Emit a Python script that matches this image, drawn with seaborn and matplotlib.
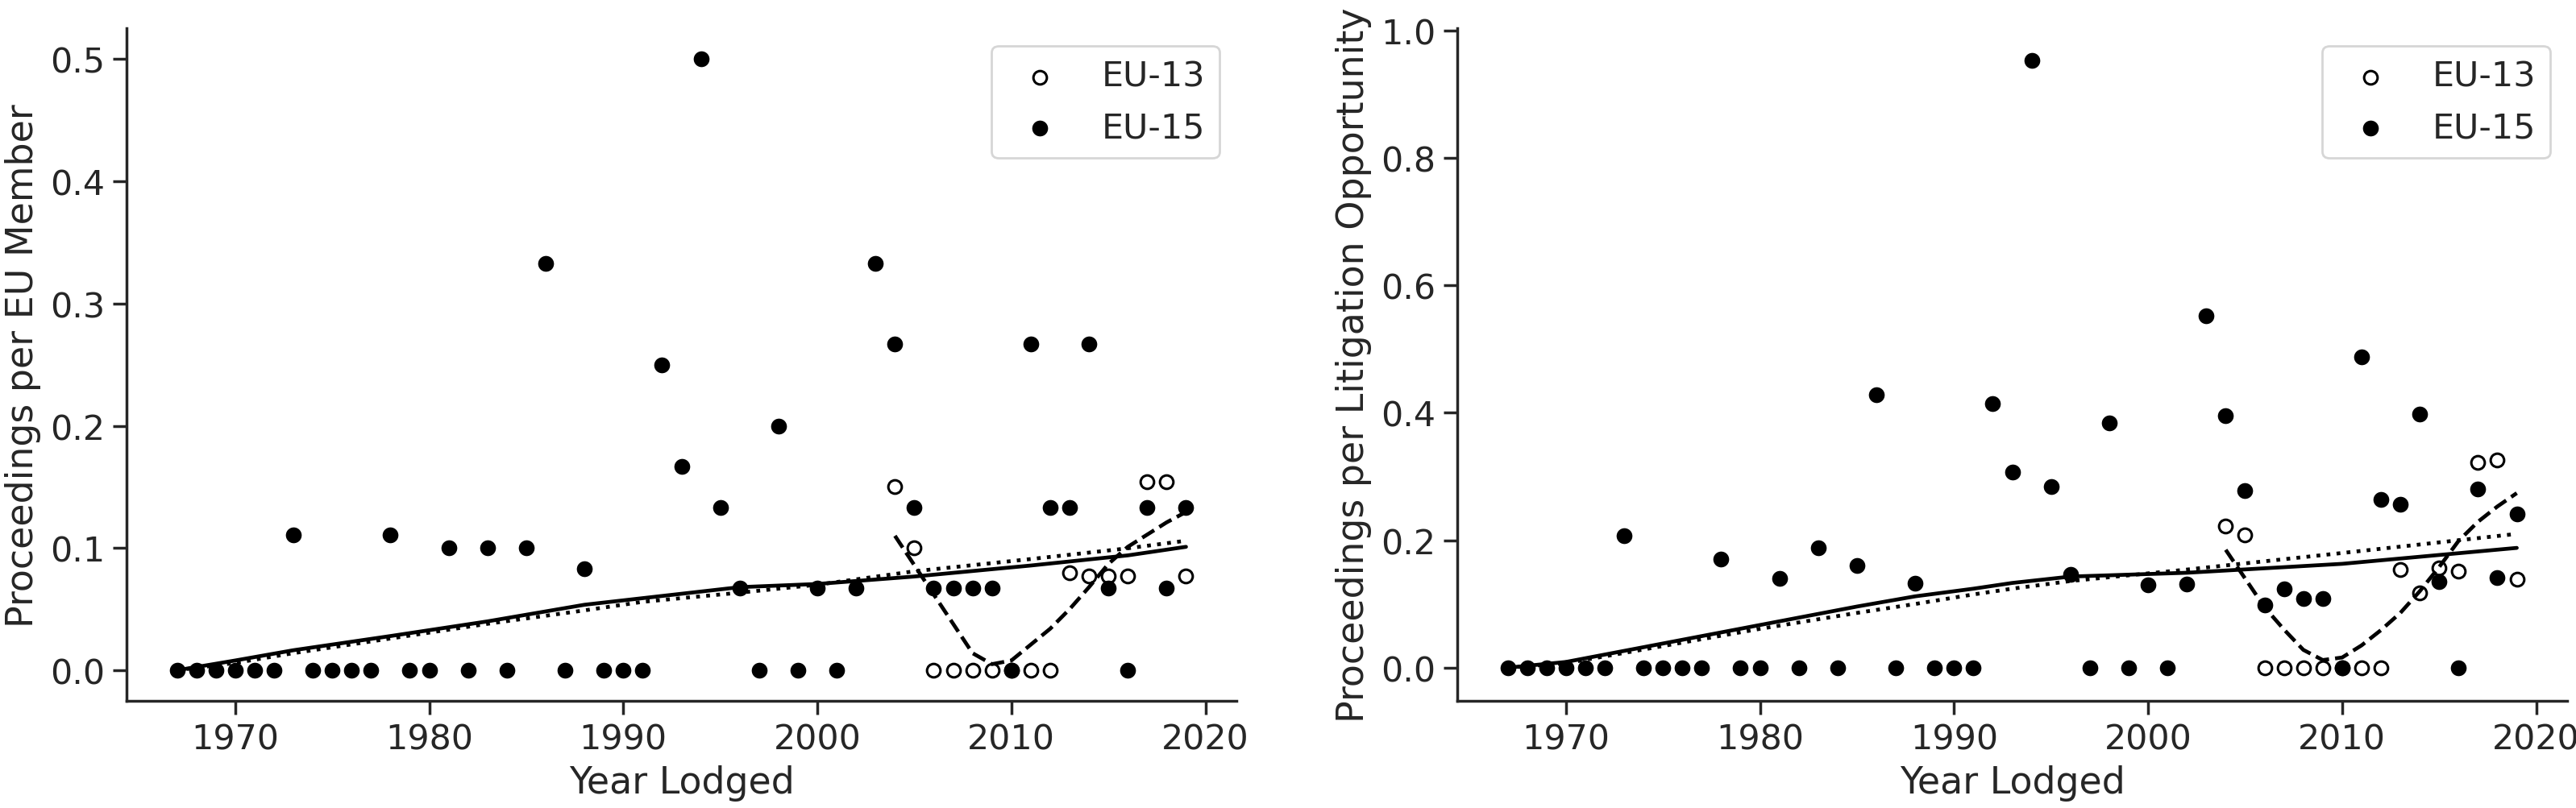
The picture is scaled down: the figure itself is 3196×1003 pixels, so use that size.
import numpy as np
import pandas as pd
import seaborn as sns
import matplotlib
matplotlib.use("Agg")
import matplotlib.pyplot as plt

# ---- data ----
years_eu15 = list(range(1967, 2020))
years_eu13 = list(range(2004, 2020))

# proceedings per EU member
member_eu15 = [0, 0, 0, 0, 0, 0, 0.111, 0, 0, 0, 0, 0.111, 0, 0, 0.1, 0, 0.1, 0, 0.1,
               0.333, 0, 0.083, 0, 0, 0, 0.25, 0.167, 0.5, 0.133, 0.067, 0, 0.2, 0,
               0.067, 0, 0.067, 0.333, 0.267, 0.133, 0.067, 0.067, 0.067, 0.067, 0,
               0.267, 0.133, 0.133, 0.267, 0.067, 0, 0.133, 0.067, 0.133]
member_eu13 = [0.15, 0.1, 0, 0, 0, 0, 0, 0, 0, 0.08, 0.077, 0.077, 0.077, 0.154,
               0.154, 0.077]

# proceedings per litigation opportunity
opport_eu15 = [0, 0, 0, 0, 0, 0, 0.207, 0, 0, 0, 0, 0.171, 0, 0, 0.140, 0, 0.188, 0,
               0.160, 0.428, 0, 0.133, 0, 0, 0, 0.415, 0.307, 0.953, 0.284, 0.147, 0,
               0.384, 0, 0.130, 0, 0.131, 0.552, 0.395, 0.278, 0.099, 0.124, 0.109,
               0.109, 0, 0.488, 0.264, 0.256, 0.398, 0.135, 0, 0.280, 0.142, 0.241]
opport_eu13 = [0.222, 0.208, 0, 0, 0, 0, 0, 0, 0, 0.154, 0.117, 0.157, 0.151, 0.322,
               0.326, 0.139]

# smoothed trend lines
trend_years = [1967, 1970, 1973, 1978, 1983, 1988, 1991, 1996, 2000, 2005, 2011, 2016, 2019]
member_trend_solid = [0.0, 0.008, 0.0164, 0.028, 0.040, 0.0536, 0.059, 0.068, 0.0706,
                      0.0767, 0.0857, 0.094, 0.101]
member_trend_dotted = [0.0, 0.006, 0.014, 0.026, 0.038, 0.049, 0.056, 0.0635, 0.070,
                       0.081, 0.091, 0.0998, 0.106]
member_trend_dashed = [0.110, 0.086, 0.062, 0.038, 0.014, 0.005, 0.008, 0.021, 0.034,
                       0.050, 0.068, 0.087, 0.101, 0.111, 0.121, 0.1295]

opport_trend_years = [1967, 1970, 1975, 1980, 1985, 1988, 1991, 1993, 1996, 2002, 2010, 2019]
opport_trend_solid = [0.0, 0.009, 0.038, 0.067, 0.096, 0.112, 0.124, 0.133, 0.143,
                      0.149, 0.163, 0.188]
opport_trend_dotted = [0.0, 0.007, 0.034, 0.061, 0.086, 0.100, 0.115, 0.124, 0.136,
                       0.154, 0.180, 0.210]
opport_trend_dashed = [0.185, 0.140, 0.095, 0.060, 0.028, 0.012, 0.016, 0.035, 0.059,
                       0.086, 0.120, 0.158, 0.199, 0.229, 0.253, 0.274]

sns.set_theme(style="ticks", context="notebook", font_scale=1.4)
plt.rcParams['font.family'] = ['DejaVu Sans']
plt.rcParams['axes.labelsize'] = 16.5
plt.rcParams['xtick.major.size'] = 6
plt.rcParams['ytick.major.size'] = 6


def draw_panel(ax, eu13, eu15, t_years, t_solid, t_dotted, t_dashed, ylabel):
    sns.scatterplot(x=years_eu13, y=eu13, ax=ax, s=36, facecolor="white",
                    edgecolor="black", linewidth=1.1, label="EU-13", zorder=2)
    sns.scatterplot(x=years_eu15, y=eu15, ax=ax, s=50, color="black",
                    linewidth=0, label="EU-15", zorder=2)
    sns.lineplot(x=t_years, y=t_solid, ax=ax, color="black", linestyle="-",
                 linewidth=1.7, zorder=3)
    sns.lineplot(x=t_years, y=t_dotted, ax=ax, color="black", linestyle=":",
                 linewidth=1.7, zorder=3)
    sns.lineplot(x=years_eu13, y=t_dashed, ax=ax, color="black", linestyle="--",
                 linewidth=1.7, zorder=3)
    ax.set_xlabel("Year Lodged")
    ax.set_ylabel(ylabel)
    ax.set_xticks([1970, 1980, 1990, 2000, 2010, 2020])
    ax.legend(loc="upper right")
    sns.despine(ax=ax)


fig = plt.figure(figsize=(15.98, 5.02), dpi=200)
ax1 = fig.add_axes([0.0491, 0.1325, 0.4309, 0.8312])
ax2 = fig.add_axes([0.5657, 0.1325, 0.4309, 0.8312])

draw_panel(ax1, member_eu13, member_eu15, trend_years, member_trend_solid,
           member_trend_dotted, member_trend_dashed, "Proceedings per EU Member")
ax1.set_yticks([0.0, 0.1, 0.2, 0.3, 0.4, 0.5])

draw_panel(ax2, opport_eu13, opport_eu15, opport_trend_years, opport_trend_solid,
           opport_trend_dotted, opport_trend_dashed,
           "Proceedings per Litigation Opportunity")
ax2.set_yticks([0.0, 0.2, 0.4, 0.6, 0.8, 1.0])

for ax in (ax1, ax2):
    ax.set_xlim(1964.4, 2021.6)
    ax.yaxis.set_major_formatter(matplotlib.ticker.FormatStrFormatter("%.1f"))
ax1.set_ylim(-0.025, 0.525)
ax2.set_ylim(-0.052, 1.003)

fig.savefig("out.png", dpi=200)
